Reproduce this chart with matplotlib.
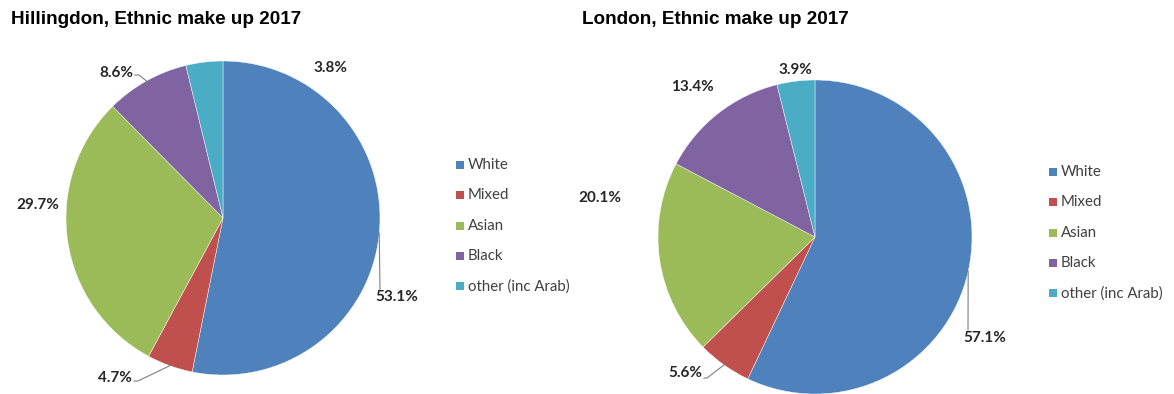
import numpy as np
import matplotlib
matplotlib.use("Agg")
import matplotlib.pyplot as plt
from matplotlib.lines import Line2D
from matplotlib.patches import Rectangle

# Ethnic groups and their shares (%)
groups = ["White", "Mixed", "Asian", "Black", "other (inc Arab)"]
hillingdon_pct = [53.1, 4.7, 29.7, 8.6, 3.8]
london_pct = [57.1, 5.6, 20.1, 13.4, 3.9]

colors = ["#4F81BD", "#C0504D", "#9BBB59", "#8064A2", "#4BACC6"]

W, H = 1174, 394
fig = plt.figure(figsize=(W / 100, H / 100), dpi=100)
ax = fig.add_axes([0, 0, 1, 1])
ax.set_xlim(0, W)
ax.set_ylim(0, H)
ax.axis("off")

LABEL_FONT = dict(family=["Lato", "DejaVu Sans"], fontsize=11, fontweight="bold", color="#262626")
LEGEND_FONT = dict(family=["Lato", "DejaVu Sans"], fontsize=10.8, color="#404040")
TITLE_FONT = dict(family=["Liberation Sans", "DejaVu Sans"], fontsize=13.6, fontweight="bold", color="black")


def Y(y):
    return H - y


def draw_chart(values, title, title_x, center, radius, label_layout, legend_xy):
    cx, cy = center
    wedges, _ = ax.pie(values, colors=colors, startangle=90, counterclock=False,
                       center=(cx, Y(cy)), radius=radius,
                       wedgeprops=dict(edgecolor="white", linewidth=0.3))
    ax.set_xlim(0, W)
    ax.set_ylim(0, H)
    ax.set_aspect("auto")

    for val, w, lay in zip(values, wedges, label_layout):
        lx, ly, ha, leader = lay
        ax.text(lx, Y(ly), f"{val:.1f}%", ha=ha, va="center", **LABEL_FONT)
        if leader is not None:
            mid = np.deg2rad((w.theta1 + w.theta2) / 2)
            sx = cx + radius * np.cos(mid)
            sy = Y(cy) + radius * np.sin(mid)
            xs = [sx] + [p[0] for p in leader]
            ys = [sy] + [Y(p[1]) for p in leader]
            ax.add_line(Line2D(xs, ys, color="#7F7F7F", linewidth=0.8))

    ax.text(title_x, Y(19), title, ha="left", va="center", **TITLE_FONT)

    lx, ly = legend_xy
    for i, (g, c) in enumerate(zip(groups, colors)):
        yy = ly + i * 30.3
        ax.add_patch(Rectangle((lx, Y(yy) - 4), 8, 8, facecolor=c, edgecolor="none"))
        ax.text(lx + 12, Y(yy), g, ha="left", va="center", **LEGEND_FONT)


# label layout: (x, y, alignment, leader-line points)
hill_layout = [
    (397, 297, "center", [(380, 290)]),
    (115, 378, "center", [(138, 381), (134, 381)]),
    (38, 205, "center", None),
    (116, 73, "center", [(139, 75), (135, 75)]),
    (330, 68, "center", None),
]
london_layout = [
    (985, 338, "center", [(968, 330)]),
    (685, 373, "center", [(707, 378), (704, 378)]),
    (600, 198, "center", None),
    (692, 87, "center", None),
    (795, 70, "center", None),
]

draw_chart(hillingdon_pct, "Hillingdon, Ethnic make up 2017", 11, (223, 218), 157,
           hill_layout, (456, 165))
draw_chart(london_pct, "London, Ethnic make up 2017", 582, (815, 237), 157,
           london_layout, (1049, 172))

fig.savefig("out.png", dpi=100, facecolor="white")
